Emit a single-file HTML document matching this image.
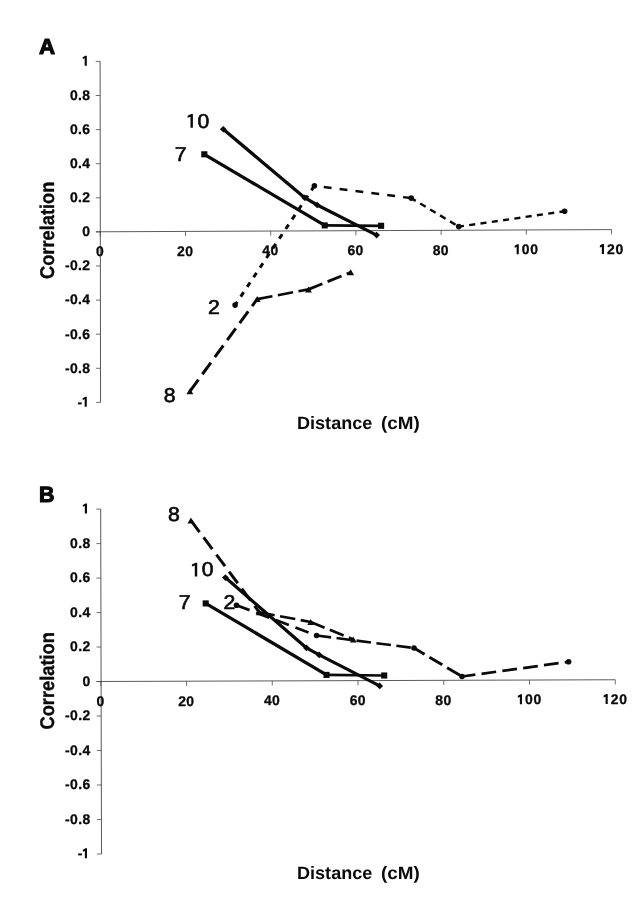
<!DOCTYPE html>
<html><head><meta charset="utf-8"><title>Figure</title>
<style>html,body{margin:0;padding:0;background:#fff;}body{width:639px;height:900px;overflow:hidden;font-family:"Liberation Sans",sans-serif;}svg{display:block;filter:grayscale(1);}svg text{font-family:"Liberation Sans",sans-serif;text-rendering:geometricPrecision;}</style>
</head><body>
<svg width="639" height="900" viewBox="0 0 639 900" font-family="Liberation Sans, sans-serif">
<rect width="639" height="900" fill="#ffffff"/>
<line x1="95.90" y1="231.80" x2="611.50" y2="229.60" stroke="#484848" stroke-width="0.9" stroke-linecap="butt"/>
<line x1="100.10" y1="61.40" x2="100.55" y2="402.40" stroke="#3a3a3a" stroke-width="0.85" stroke-linecap="butt"/>
<line x1="95.70" y1="61.40" x2="100.10" y2="61.40" stroke="#4a4a4a" stroke-width="0.8" stroke-linecap="butt"/>
<polygon points="86.80,65.70 86.80,55.70 85.29,55.70 82.65,57.20 82.65,59.10 84.65,58.35 84.65,65.70" fill="#0a0a0a"/>
<line x1="95.74" y1="95.50" x2="100.14" y2="95.50" stroke="#4a4a4a" stroke-width="0.8" stroke-linecap="butt"/>
<text transform="translate(90.30,99.80) scale(0.995,1.0)" font-size="14.0" font-weight="bold" text-anchor="end" fill="#0a0a0a" stroke="#0a0a0a" stroke-width="0.3" stroke-linejoin="round" letter-spacing="0.35">0.8</text>
<line x1="95.79" y1="129.60" x2="100.19" y2="129.60" stroke="#4a4a4a" stroke-width="0.8" stroke-linecap="butt"/>
<text transform="translate(90.30,133.90) scale(0.995,1.0)" font-size="14.0" font-weight="bold" text-anchor="end" fill="#0a0a0a" stroke="#0a0a0a" stroke-width="0.3" stroke-linejoin="round" letter-spacing="0.35">0.6</text>
<line x1="95.83" y1="163.70" x2="100.23" y2="163.70" stroke="#4a4a4a" stroke-width="0.8" stroke-linecap="butt"/>
<text transform="translate(90.30,168.00) scale(0.995,1.0)" font-size="14.0" font-weight="bold" text-anchor="end" fill="#0a0a0a" stroke="#0a0a0a" stroke-width="0.3" stroke-linejoin="round" letter-spacing="0.35">0.4</text>
<line x1="95.88" y1="197.80" x2="100.28" y2="197.80" stroke="#4a4a4a" stroke-width="0.8" stroke-linecap="butt"/>
<text transform="translate(90.30,202.10) scale(0.995,1.0)" font-size="14.0" font-weight="bold" text-anchor="end" fill="#0a0a0a" stroke="#0a0a0a" stroke-width="0.3" stroke-linejoin="round" letter-spacing="0.35">0.2</text>
<line x1="95.92" y1="231.90" x2="100.32" y2="231.90" stroke="#4a4a4a" stroke-width="0.8" stroke-linecap="butt"/>
<text transform="translate(90.30,236.20) scale(0.995,1.0)" font-size="14.0" font-weight="bold" text-anchor="end" fill="#0a0a0a" stroke="#0a0a0a" stroke-width="0.3" stroke-linejoin="round" letter-spacing="0.35">0</text>
<line x1="95.97" y1="266.00" x2="100.37" y2="266.00" stroke="#4a4a4a" stroke-width="0.8" stroke-linecap="butt"/>
<text transform="translate(90.30,270.30) scale(0.995,1.0)" font-size="14.0" font-weight="bold" text-anchor="end" fill="#0a0a0a" stroke="#0a0a0a" stroke-width="0.3" stroke-linejoin="round" letter-spacing="0.35">-0.2</text>
<line x1="96.01" y1="300.10" x2="100.41" y2="300.10" stroke="#4a4a4a" stroke-width="0.8" stroke-linecap="butt"/>
<text transform="translate(90.30,304.40) scale(0.995,1.0)" font-size="14.0" font-weight="bold" text-anchor="end" fill="#0a0a0a" stroke="#0a0a0a" stroke-width="0.3" stroke-linejoin="round" letter-spacing="0.35">-0.4</text>
<line x1="96.06" y1="334.20" x2="100.46" y2="334.20" stroke="#4a4a4a" stroke-width="0.8" stroke-linecap="butt"/>
<text transform="translate(90.30,338.50) scale(0.995,1.0)" font-size="14.0" font-weight="bold" text-anchor="end" fill="#0a0a0a" stroke="#0a0a0a" stroke-width="0.3" stroke-linejoin="round" letter-spacing="0.35">-0.6</text>
<line x1="96.10" y1="368.30" x2="100.50" y2="368.30" stroke="#4a4a4a" stroke-width="0.8" stroke-linecap="butt"/>
<text transform="translate(90.30,372.60) scale(0.995,1.0)" font-size="14.0" font-weight="bold" text-anchor="end" fill="#0a0a0a" stroke="#0a0a0a" stroke-width="0.3" stroke-linejoin="round" letter-spacing="0.35">-0.8</text>
<line x1="96.15" y1="402.40" x2="100.55" y2="402.40" stroke="#4a4a4a" stroke-width="0.8" stroke-linecap="butt"/>
<polygon points="86.80,406.70 86.80,396.70 85.29,396.70 82.65,398.20 82.65,400.10 84.65,399.35 84.65,406.70" fill="#0a0a0a"/>
<text transform="translate(82.20,406.70) scale(0.995,1.0)" font-size="14.0" font-weight="bold" text-anchor="end" fill="#0a0a0a" stroke="#0a0a0a" stroke-width="0.3" stroke-linejoin="round">-</text>
<line x1="100.30" y1="231.80" x2="100.30" y2="236.40" stroke="#4a4a4a" stroke-width="0.8" stroke-linecap="butt"/>
<text transform="translate(100.00,256.20) scale(0.995,1.0)" font-size="14.0" font-weight="bold" text-anchor="middle" fill="#0a0a0a" stroke="#0a0a0a" stroke-width="0.3" stroke-linejoin="round" letter-spacing="0.35">0</text>
<line x1="185.50" y1="231.43" x2="185.50" y2="236.03" stroke="#4a4a4a" stroke-width="0.8" stroke-linecap="butt"/>
<text transform="translate(185.20,255.83) scale(0.995,1.0)" font-size="14.0" font-weight="bold" text-anchor="middle" fill="#0a0a0a" stroke="#0a0a0a" stroke-width="0.3" stroke-linejoin="round" letter-spacing="0.35">20</text>
<line x1="270.70" y1="231.07" x2="270.70" y2="235.67" stroke="#4a4a4a" stroke-width="0.8" stroke-linecap="butt"/>
<text transform="translate(270.40,255.47) scale(0.995,1.0)" font-size="14.0" font-weight="bold" text-anchor="middle" fill="#0a0a0a" stroke="#0a0a0a" stroke-width="0.3" stroke-linejoin="round" letter-spacing="0.35">40</text>
<line x1="355.90" y1="230.70" x2="355.90" y2="235.30" stroke="#4a4a4a" stroke-width="0.8" stroke-linecap="butt"/>
<text transform="translate(355.60,255.10) scale(0.995,1.0)" font-size="14.0" font-weight="bold" text-anchor="middle" fill="#0a0a0a" stroke="#0a0a0a" stroke-width="0.3" stroke-linejoin="round" letter-spacing="0.35">60</text>
<line x1="441.10" y1="230.33" x2="441.10" y2="234.93" stroke="#4a4a4a" stroke-width="0.8" stroke-linecap="butt"/>
<text transform="translate(440.80,254.73) scale(0.995,1.0)" font-size="14.0" font-weight="bold" text-anchor="middle" fill="#0a0a0a" stroke="#0a0a0a" stroke-width="0.3" stroke-linejoin="round" letter-spacing="0.35">80</text>
<line x1="526.30" y1="229.97" x2="526.30" y2="234.57" stroke="#4a4a4a" stroke-width="0.8" stroke-linecap="butt"/>
<polygon points="518.80,254.37 518.80,244.37 517.29,244.37 514.65,245.87 514.65,247.77 516.65,247.01 516.65,254.37" fill="#0a0a0a"/>
<text transform="translate(521.80,254.37) scale(0.995,1.0)" font-size="14.0" font-weight="bold" text-anchor="start" fill="#0a0a0a" stroke="#0a0a0a" stroke-width="0.3" stroke-linejoin="round" letter-spacing="0.6499999999999999">00</text>
<line x1="611.50" y1="229.60" x2="611.50" y2="234.20" stroke="#4a4a4a" stroke-width="0.8" stroke-linecap="butt"/>
<polygon points="604.00,254.00 604.00,244.00 602.50,244.00 599.85,245.50 599.85,247.40 601.85,246.64 601.85,254.00" fill="#0a0a0a"/>
<text transform="translate(607.00,254.00) scale(0.995,1.0)" font-size="14.0" font-weight="bold" text-anchor="start" fill="#0a0a0a" stroke="#0a0a0a" stroke-width="0.3" stroke-linejoin="round" letter-spacing="0.6499999999999999">20</text>
<line x1="96.40" y1="681.50" x2="615.25" y2="679.75" stroke="#484848" stroke-width="0.9" stroke-linecap="butt"/>
<line x1="100.70" y1="509.10" x2="101.50" y2="854.00" stroke="#3a3a3a" stroke-width="0.85" stroke-linecap="butt"/>
<line x1="96.30" y1="509.10" x2="100.70" y2="509.10" stroke="#4a4a4a" stroke-width="0.8" stroke-linecap="butt"/>
<polygon points="87.00,513.40 87.00,503.40 85.49,503.40 82.85,504.90 82.85,506.80 84.85,506.05 84.85,513.40" fill="#0a0a0a"/>
<line x1="96.38" y1="543.59" x2="100.78" y2="543.59" stroke="#4a4a4a" stroke-width="0.8" stroke-linecap="butt"/>
<text transform="translate(90.50,547.89) scale(0.995,1.0)" font-size="14.0" font-weight="bold" text-anchor="end" fill="#0a0a0a" stroke="#0a0a0a" stroke-width="0.3" stroke-linejoin="round" letter-spacing="0.35">0.8</text>
<line x1="96.46" y1="578.08" x2="100.86" y2="578.08" stroke="#4a4a4a" stroke-width="0.8" stroke-linecap="butt"/>
<text transform="translate(90.50,582.38) scale(0.995,1.0)" font-size="14.0" font-weight="bold" text-anchor="end" fill="#0a0a0a" stroke="#0a0a0a" stroke-width="0.3" stroke-linejoin="round" letter-spacing="0.35">0.6</text>
<line x1="96.54" y1="612.57" x2="100.94" y2="612.57" stroke="#4a4a4a" stroke-width="0.8" stroke-linecap="butt"/>
<text transform="translate(90.50,616.87) scale(0.995,1.0)" font-size="14.0" font-weight="bold" text-anchor="end" fill="#0a0a0a" stroke="#0a0a0a" stroke-width="0.3" stroke-linejoin="round" letter-spacing="0.35">0.4</text>
<line x1="96.62" y1="647.06" x2="101.02" y2="647.06" stroke="#4a4a4a" stroke-width="0.8" stroke-linecap="butt"/>
<text transform="translate(90.50,651.36) scale(0.995,1.0)" font-size="14.0" font-weight="bold" text-anchor="end" fill="#0a0a0a" stroke="#0a0a0a" stroke-width="0.3" stroke-linejoin="round" letter-spacing="0.35">0.2</text>
<line x1="96.70" y1="681.55" x2="101.10" y2="681.55" stroke="#4a4a4a" stroke-width="0.8" stroke-linecap="butt"/>
<text transform="translate(90.50,685.85) scale(0.995,1.0)" font-size="14.0" font-weight="bold" text-anchor="end" fill="#0a0a0a" stroke="#0a0a0a" stroke-width="0.3" stroke-linejoin="round" letter-spacing="0.35">0</text>
<line x1="96.78" y1="716.04" x2="101.18" y2="716.04" stroke="#4a4a4a" stroke-width="0.8" stroke-linecap="butt"/>
<text transform="translate(90.50,720.34) scale(0.995,1.0)" font-size="14.0" font-weight="bold" text-anchor="end" fill="#0a0a0a" stroke="#0a0a0a" stroke-width="0.3" stroke-linejoin="round" letter-spacing="0.35">-0.2</text>
<line x1="96.86" y1="750.53" x2="101.26" y2="750.53" stroke="#4a4a4a" stroke-width="0.8" stroke-linecap="butt"/>
<text transform="translate(90.50,754.83) scale(0.995,1.0)" font-size="14.0" font-weight="bold" text-anchor="end" fill="#0a0a0a" stroke="#0a0a0a" stroke-width="0.3" stroke-linejoin="round" letter-spacing="0.35">-0.4</text>
<line x1="96.94" y1="785.02" x2="101.34" y2="785.02" stroke="#4a4a4a" stroke-width="0.8" stroke-linecap="butt"/>
<text transform="translate(90.50,789.32) scale(0.995,1.0)" font-size="14.0" font-weight="bold" text-anchor="end" fill="#0a0a0a" stroke="#0a0a0a" stroke-width="0.3" stroke-linejoin="round" letter-spacing="0.35">-0.6</text>
<line x1="97.02" y1="819.51" x2="101.42" y2="819.51" stroke="#4a4a4a" stroke-width="0.8" stroke-linecap="butt"/>
<text transform="translate(90.50,823.81) scale(0.995,1.0)" font-size="14.0" font-weight="bold" text-anchor="end" fill="#0a0a0a" stroke="#0a0a0a" stroke-width="0.3" stroke-linejoin="round" letter-spacing="0.35">-0.8</text>
<line x1="97.10" y1="854.00" x2="101.50" y2="854.00" stroke="#4a4a4a" stroke-width="0.8" stroke-linecap="butt"/>
<polygon points="87.00,858.30 87.00,848.30 85.49,848.30 82.85,849.80 82.85,851.70 84.85,850.94 84.85,858.30" fill="#0a0a0a"/>
<text transform="translate(82.40,858.30) scale(0.995,1.0)" font-size="14.0" font-weight="bold" text-anchor="end" fill="#0a0a0a" stroke="#0a0a0a" stroke-width="0.3" stroke-linejoin="round">-</text>
<line x1="100.80" y1="681.50" x2="100.80" y2="686.10" stroke="#4a4a4a" stroke-width="0.8" stroke-linecap="butt"/>
<text transform="translate(100.50,705.80) scale(0.995,1.0)" font-size="14.0" font-weight="bold" text-anchor="middle" fill="#0a0a0a" stroke="#0a0a0a" stroke-width="0.3" stroke-linejoin="round" letter-spacing="0.35">0</text>
<line x1="186.54" y1="681.21" x2="186.54" y2="685.81" stroke="#4a4a4a" stroke-width="0.8" stroke-linecap="butt"/>
<text transform="translate(186.24,705.51) scale(0.995,1.0)" font-size="14.0" font-weight="bold" text-anchor="middle" fill="#0a0a0a" stroke="#0a0a0a" stroke-width="0.3" stroke-linejoin="round" letter-spacing="0.35">20</text>
<line x1="272.28" y1="680.92" x2="272.28" y2="685.52" stroke="#4a4a4a" stroke-width="0.8" stroke-linecap="butt"/>
<text transform="translate(271.98,705.22) scale(0.995,1.0)" font-size="14.0" font-weight="bold" text-anchor="middle" fill="#0a0a0a" stroke="#0a0a0a" stroke-width="0.3" stroke-linejoin="round" letter-spacing="0.35">40</text>
<line x1="358.03" y1="680.62" x2="358.03" y2="685.23" stroke="#4a4a4a" stroke-width="0.8" stroke-linecap="butt"/>
<text transform="translate(357.73,704.92) scale(0.995,1.0)" font-size="14.0" font-weight="bold" text-anchor="middle" fill="#0a0a0a" stroke="#0a0a0a" stroke-width="0.3" stroke-linejoin="round" letter-spacing="0.35">60</text>
<line x1="443.77" y1="680.33" x2="443.77" y2="684.93" stroke="#4a4a4a" stroke-width="0.8" stroke-linecap="butt"/>
<text transform="translate(443.47,704.63) scale(0.995,1.0)" font-size="14.0" font-weight="bold" text-anchor="middle" fill="#0a0a0a" stroke="#0a0a0a" stroke-width="0.3" stroke-linejoin="round" letter-spacing="0.35">80</text>
<line x1="529.51" y1="680.04" x2="529.51" y2="684.64" stroke="#4a4a4a" stroke-width="0.8" stroke-linecap="butt"/>
<polygon points="522.01,704.34 522.01,694.34 520.50,694.34 517.86,695.84 517.86,697.74 519.86,696.99 519.86,704.34" fill="#0a0a0a"/>
<text transform="translate(525.01,704.34) scale(0.995,1.0)" font-size="14.0" font-weight="bold" text-anchor="start" fill="#0a0a0a" stroke="#0a0a0a" stroke-width="0.3" stroke-linejoin="round" letter-spacing="0.6499999999999999">00</text>
<line x1="615.25" y1="679.75" x2="615.25" y2="684.35" stroke="#4a4a4a" stroke-width="0.8" stroke-linecap="butt"/>
<polygon points="607.75,704.05 607.75,694.05 606.25,694.05 603.60,695.55 603.60,697.45 605.60,696.69 605.60,704.05" fill="#0a0a0a"/>
<text transform="translate(610.75,704.05) scale(0.995,1.0)" font-size="14.0" font-weight="bold" text-anchor="start" fill="#0a0a0a" stroke="#0a0a0a" stroke-width="0.3" stroke-linejoin="round" letter-spacing="0.6499999999999999">20</text>
<text transform="translate(39.00,54.30) scale(1.02,1.0)" font-size="21.9" font-weight="bold" text-anchor="start" fill="#0a0a0a" stroke="#0a0a0a" stroke-width="1.1" stroke-linejoin="round">A</text>
<text transform="translate(39.10,502.40) scale(0.97,1.0)" font-size="22.0" font-weight="bold" text-anchor="start" fill="#0a0a0a" stroke="#0a0a0a" stroke-width="1.1" stroke-linejoin="round">B</text>
<text transform="translate(54.20,279.00) rotate(-90) scale(0.918,1.0)" font-size="19.9" font-weight="bold" text-anchor="start" fill="#0a0a0a" stroke="#0a0a0a" stroke-width="0.35" stroke-linejoin="round">Correlation</text>
<text transform="translate(54.20,729.50) rotate(-90) scale(0.918,1.0)" font-size="19.9" font-weight="bold" text-anchor="start" fill="#0a0a0a" stroke="#0a0a0a" stroke-width="0.35" stroke-linejoin="round">Correlation</text>
<text transform="translate(297.00,428.60) scale(1.01,1.0)" font-size="17.9" font-weight="bold" text-anchor="start" fill="#0a0a0a">Distance</text>
<text transform="translate(419.70,428.60) scale(1.055,1.0)" font-size="17.9" font-weight="bold" text-anchor="end" fill="#0a0a0a">(cM)</text>
<text transform="translate(297.00,878.60) scale(1.01,1.0)" font-size="17.9" font-weight="bold" text-anchor="start" fill="#0a0a0a">Distance</text>
<text transform="translate(419.70,878.60) scale(1.055,1.0)" font-size="17.9" font-weight="bold" text-anchor="end" fill="#0a0a0a">(cM)</text>
<line x1="223.30" y1="129.30" x2="304.70" y2="197.70" stroke="#0a0a0a" stroke-width="3.3" stroke-linecap="round"/>
<line x1="304.70" y1="197.70" x2="317.20" y2="205.00" stroke="#0a0a0a" stroke-width="3.3" stroke-linecap="round"/>
<line x1="317.20" y1="205.00" x2="376.60" y2="235.10" stroke="#0a0a0a" stroke-width="3.3" stroke-linecap="round"/>
<polygon points="219.90,129.30 223.30,126.00 226.70,129.30 223.30,132.60" fill="#0a0a0a"/>
<polygon points="301.30,197.70 304.70,194.40 308.10,197.70 304.70,201.00" fill="#0a0a0a"/>
<polygon points="313.80,205.00 317.20,201.70 320.60,205.00 317.20,208.30" fill="#0a0a0a"/>
<polygon points="373.20,235.10 376.60,231.80 380.00,235.10 376.60,238.40" fill="#0a0a0a"/>
<line x1="204.30" y1="154.30" x2="324.70" y2="225.40" stroke="#0a0a0a" stroke-width="3.3" stroke-linecap="butt"/>
<line x1="324.70" y1="225.40" x2="381.10" y2="225.80" stroke="#0a0a0a" stroke-width="2.7" stroke-linecap="butt"/>
<rect x="201.25" y="151.25" width="6.1" height="6.1" fill="#0a0a0a"/>
<rect x="321.65" y="222.35" width="6.1" height="6.1" fill="#0a0a0a"/>
<rect x="378.05" y="222.75" width="6.1" height="6.1" fill="#0a0a0a"/>
<line x1="235.10" y1="305.10" x2="314.40" y2="185.80" stroke="#0a0a0a" stroke-width="3.0" stroke-linecap="butt" stroke-dasharray="5.3 6.3" stroke-dashoffset="1.4"/>
<line x1="314.40" y1="185.80" x2="411.20" y2="198.10" stroke="#0a0a0a" stroke-width="2.4" stroke-linecap="butt" stroke-dasharray="7.9 8.1" stroke-dashoffset="6.6"/>
<line x1="411.20" y1="198.10" x2="458.70" y2="226.60" stroke="#0a0a0a" stroke-width="2.5" stroke-linecap="butt" stroke-dasharray="6.4 5.2" stroke-dashoffset="1.1"/>
<line x1="458.70" y1="226.60" x2="564.60" y2="211.30" stroke="#0a0a0a" stroke-width="2.4" stroke-linecap="butt" stroke-dasharray="6.1 5.3" stroke-dashoffset="0.8"/>
<circle cx="235.10" cy="305.10" r="2.8" fill="#0a0a0a"/>
<circle cx="314.40" cy="185.80" r="2.8" fill="#0a0a0a"/>
<circle cx="411.20" cy="198.10" r="2.8" fill="#0a0a0a"/>
<circle cx="458.70" cy="226.60" r="2.8" fill="#0a0a0a"/>
<circle cx="564.60" cy="211.30" r="2.8" fill="#0a0a0a"/>
<line x1="189.90" y1="391.30" x2="257.20" y2="299.10" stroke="#0a0a0a" stroke-width="3.0" stroke-linecap="butt" stroke-dasharray="14.5 6.6" stroke-dashoffset="0"/>
<line x1="257.20" y1="299.10" x2="308.50" y2="289.40" stroke="#0a0a0a" stroke-width="2.6" stroke-linecap="butt" stroke-dasharray="15.5 5.5" stroke-dashoffset="0"/>
<line x1="308.50" y1="289.40" x2="350.70" y2="272.30" stroke="#0a0a0a" stroke-width="2.8" stroke-linecap="butt" stroke-dasharray="15 5.6" stroke-dashoffset="0"/>
<polygon points="186.50,394.30 193.30,394.30 189.90,388.30" fill="#0a0a0a"/>
<polygon points="253.80,302.10 260.60,302.10 257.20,296.10" fill="#0a0a0a"/>
<polygon points="305.10,292.40 311.90,292.40 308.50,286.40" fill="#0a0a0a"/>
<polygon points="347.30,275.30 354.10,275.30 350.70,269.30" fill="#0a0a0a"/>
<polygon points="192.90,127.70 192.90,114.00 191.22,114.00 187.60,115.70 187.60,117.70 190.50,116.80 190.50,127.70" fill="#0a0a0a"/>
<text transform="translate(197.50,127.60) scale(1.06,1.0)" font-size="20.0" font-weight="normal" text-anchor="start" fill="#0a0a0a" stroke="#0a0a0a" stroke-width="0.65" stroke-linejoin="round">0</text>
<text transform="translate(174.80,161.00) scale(1.06,1.0)" font-size="20.0" font-weight="normal" text-anchor="start" fill="#0a0a0a" stroke="#0a0a0a" stroke-width="0.65" stroke-linejoin="round">7</text>
<text transform="translate(208.00,314.00) scale(1.06,1.0)" font-size="20.0" font-weight="normal" text-anchor="start" fill="#0a0a0a" stroke="#0a0a0a" stroke-width="0.65" stroke-linejoin="round">2</text>
<text transform="translate(163.80,402.40) scale(1.06,1.0)" font-size="20.0" font-weight="normal" text-anchor="start" fill="#0a0a0a" stroke="#0a0a0a" stroke-width="0.65" stroke-linejoin="round">8</text>
<line x1="225.40" y1="577.60" x2="306.50" y2="647.90" stroke="#0a0a0a" stroke-width="3.3" stroke-linecap="round"/>
<line x1="306.50" y1="647.90" x2="319.20" y2="654.90" stroke="#0a0a0a" stroke-width="3.3" stroke-linecap="round"/>
<line x1="319.20" y1="654.90" x2="379.70" y2="685.90" stroke="#0a0a0a" stroke-width="3.3" stroke-linecap="round"/>
<polygon points="222.00,577.60 225.40,574.30 228.80,577.60 225.40,580.90" fill="#0a0a0a"/>
<polygon points="303.10,647.90 306.50,644.60 309.90,647.90 306.50,651.20" fill="#0a0a0a"/>
<polygon points="315.80,654.90 319.20,651.60 322.60,654.90 319.20,658.20" fill="#0a0a0a"/>
<polygon points="376.30,685.90 379.70,682.60 383.10,685.90 379.70,689.20" fill="#0a0a0a"/>
<line x1="205.70" y1="603.40" x2="326.50" y2="674.90" stroke="#0a0a0a" stroke-width="3.3" stroke-linecap="butt"/>
<line x1="326.50" y1="674.90" x2="384.20" y2="675.50" stroke="#0a0a0a" stroke-width="2.7" stroke-linecap="butt"/>
<rect x="202.65" y="600.35" width="6.1" height="6.1" fill="#0a0a0a"/>
<rect x="323.45" y="671.85" width="6.1" height="6.1" fill="#0a0a0a"/>
<rect x="381.15" y="672.45" width="6.1" height="6.1" fill="#0a0a0a"/>
<line x1="236.50" y1="605.20" x2="316.60" y2="635.50" stroke="#0a0a0a" stroke-width="2.8" stroke-linecap="butt" stroke-dasharray="14 7" stroke-dashoffset="0"/>
<line x1="316.60" y1="635.50" x2="414.00" y2="648.00" stroke="#0a0a0a" stroke-width="2.6" stroke-linecap="butt" stroke-dasharray="14.6 5.5" stroke-dashoffset="0"/>
<line x1="414.00" y1="648.00" x2="462.00" y2="676.50" stroke="#0a0a0a" stroke-width="2.9" stroke-linecap="butt" stroke-dasharray="15 5.6" stroke-dashoffset="2.7"/>
<line x1="462.00" y1="676.50" x2="568.60" y2="661.80" stroke="#0a0a0a" stroke-width="2.7" stroke-linecap="butt" stroke-dasharray="14.8 6.2" stroke-dashoffset="1.3"/>
<circle cx="236.50" cy="605.20" r="2.8" fill="#0a0a0a"/>
<circle cx="316.60" cy="635.50" r="2.8" fill="#0a0a0a"/>
<circle cx="414.00" cy="648.00" r="2.8" fill="#0a0a0a"/>
<circle cx="462.00" cy="676.50" r="2.8" fill="#0a0a0a"/>
<circle cx="568.60" cy="661.80" r="2.8" fill="#0a0a0a"/>
<line x1="190.90" y1="520.40" x2="259.40" y2="612.30" stroke="#0a0a0a" stroke-width="3.0" stroke-linecap="butt" stroke-dasharray="14.5 6.8" stroke-dashoffset="0"/>
<line x1="259.40" y1="612.30" x2="310.70" y2="622.00" stroke="#0a0a0a" stroke-width="2.6" stroke-linecap="butt" stroke-dasharray="15.5 5.5" stroke-dashoffset="0"/>
<line x1="310.70" y1="622.00" x2="353.30" y2="639.50" stroke="#0a0a0a" stroke-width="2.8" stroke-linecap="butt" stroke-dasharray="15 5.6" stroke-dashoffset="0"/>
<polygon points="187.50,523.40 194.30,523.40 190.90,517.40" fill="#0a0a0a"/>
<polygon points="256.00,615.30 262.80,615.30 259.40,609.30" fill="#0a0a0a"/>
<polygon points="307.30,625.00 314.10,625.00 310.70,619.00" fill="#0a0a0a"/>
<polygon points="349.90,642.50 356.70,642.50 353.30,636.50" fill="#0a0a0a"/>
<text transform="translate(168.00,521.30) scale(1.06,1.0)" font-size="20.0" font-weight="normal" text-anchor="start" fill="#0a0a0a" stroke="#0a0a0a" stroke-width="0.65" stroke-linejoin="round">8</text>
<polygon points="197.20,576.40 197.20,562.70 195.52,562.70 191.90,564.40 191.90,566.40 194.80,565.50 194.80,576.40" fill="#0a0a0a"/>
<text transform="translate(201.80,576.30) scale(1.06,1.0)" font-size="20.0" font-weight="normal" text-anchor="start" fill="#0a0a0a" stroke="#0a0a0a" stroke-width="0.65" stroke-linejoin="round">0</text>
<text transform="translate(178.80,609.00) scale(1.06,1.0)" font-size="20.0" font-weight="normal" text-anchor="start" fill="#0a0a0a" stroke="#0a0a0a" stroke-width="0.65" stroke-linejoin="round">7</text>
<text transform="translate(223.60,608.70) scale(1.06,1.0)" font-size="20.0" font-weight="normal" text-anchor="start" fill="#0a0a0a" stroke="#0a0a0a" stroke-width="0.65" stroke-linejoin="round">2</text>
</svg>
</body></html>
